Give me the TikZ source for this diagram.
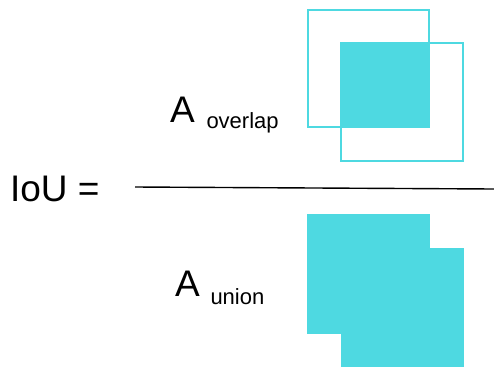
\documentclass[tikz,border=0pt]{standalone}
\usepackage{fontspec}
\setmainfont{Liberation Sans}
\definecolor{iouc}{RGB}{78,217,225}
\begin{document}
\begin{tikzpicture}[x=1pt,y=-1pt,
  bigtxt/.style={inner sep=0pt,outer sep=0pt,anchor=base west,font=\fontsize{37}{40}\selectfont},
  subtxt/.style={inner sep=0pt,outer sep=0pt,anchor=base west,font=\fontsize{22}{24}\selectfont},
  boxline/.style={draw=iouc,line width=1.4pt},
  boxfill/.style={fill=iouc}]
\useasboundingbox (0,0) rectangle (494,367);
% texts
\node[bigtxt] (iou) at (10,201.5) {IoU =};
\node[bigtxt] (aover) at (170,122.5) {A};
\node[subtxt] (over) at (206.5,128.3) {overlap};
\node[bigtxt] (aun) at (175,296) {A};
\node[subtxt] (un) at (210.5,304) {union};
% fraction line
\coordinate (fl) at (135,187);
\coordinate (fr) at (494,189);
\draw[line width=1.4pt] (fl) -- (fr);
% overlap picture
\fill[boxfill] (341,43) rectangle (429,127);
\draw[boxline] (308,10) rectangle (429,127);
\draw[boxline] (341,43) rectangle (463,161);
% union picture
\fill[boxfill] (307,214) rectangle (430,334);
\fill[boxfill] (341,248) rectangle (464,367);
\end{tikzpicture}
\end{document}
